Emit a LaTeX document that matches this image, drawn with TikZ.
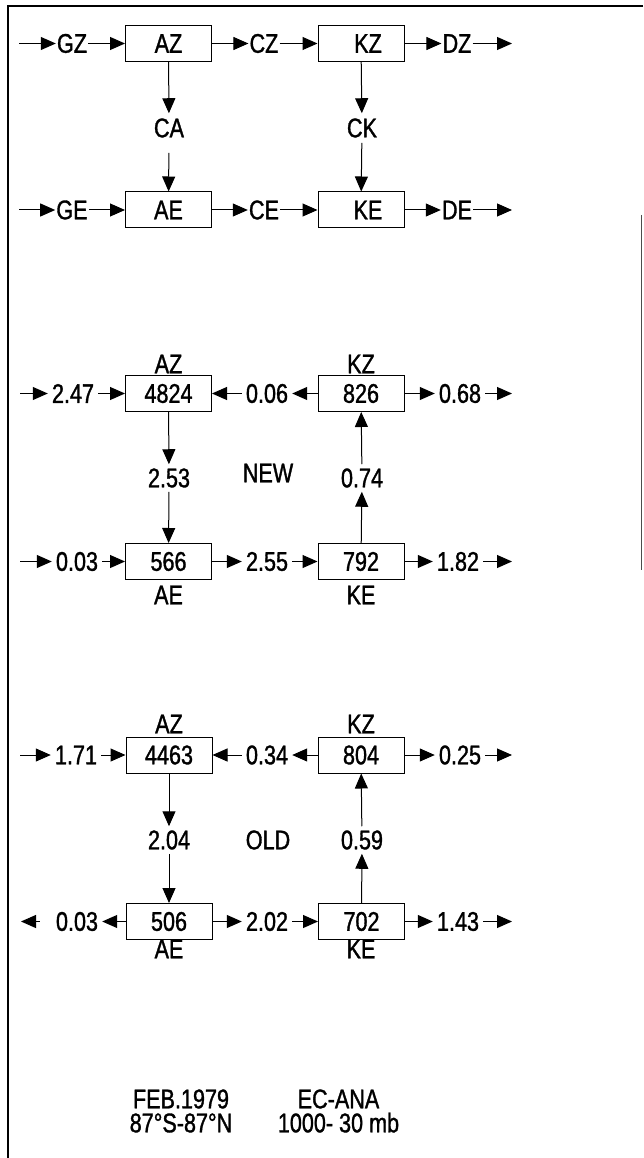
\documentclass[tikz,border=0pt]{standalone}
\usepackage{fontspec}
\setmainfont[FakeStretch=0.8,FakeBold=1.2]{Liberation Sans}
\usetikzlibrary{arrows.meta}
\begin{document}
\begin{tikzpicture}[x=1pt,y=-1pt,
  font=\fontsize{27}{30}\selectfont,
  box/.style={draw,line width=1pt,minimum width=86pt,minimum height=36pt,inner sep=0pt},
  lbl/.style={inner sep=1pt},
  num/.style={inner sep=4pt},
  captext/.style={inner sep=0.5pt,align=center,font=\fontsize{27}{24}\selectfont},
  arr/.style={line width=1pt,-{Triangle[length=15pt,width=13pt]}},
  frame/.style={line width=1.3pt}]
\useasboundingbox (0,0) rectangle (643,1158);
\draw[frame] (643,6) -- (8,6) -- (8,1158);
\draw[line width=0.8pt,black!70] (641,215) -- (641,570);

% ---------- schematic ----------
\node[box] (AZ) at (168.5,43.5) {AZ};
\node[box] (KZ) at (361,43.5) {\hspace*{14pt}KZ};
\node[box] (AE) at (168.5,210) {AE};
\node[box] (KE) at (361,210) {\hspace*{14pt}KE};
\node[lbl] (GZ) at (72,43.5) {GZ};
\node[lbl] (CZ) at (264,43.5) {CZ};
\node[lbl] (DZ) at (457,43.5) {DZ};
\node[lbl] (GE) at (72,210) {GE};
\node[lbl] (CE) at (264,210) {CE};
\node[lbl] (DE) at (457,210) {DE};
\node[inner sep=5pt] (CA) at (169,128) {CA};
\node[inner sep=5pt] (CK) at (362,128) {CK};
\coordinate (s1) at (19,43.5);
\coordinate (e1) at (512,43.5);
\coordinate (s2) at (19,210);
\coordinate (e2) at (512,210);
\draw[arr] (s1) -- (GZ);
\draw[arr] (GZ) -- (AZ);
\draw[arr] (AZ) -- (CZ);
\draw[arr] (CZ) -- (KZ);
\draw[arr] (KZ) -- (DZ);
\draw[arr] (DZ) -- (e1);
\draw[arr] (s2) -- (GE);
\draw[arr] (GE) -- (AE);
\draw[arr] (AE) -- (CE);
\draw[arr] (CE) -- (KE);
\draw[arr] (KE) -- (DE);
\draw[arr] (DE) -- (e2);
\draw[arr] (AZ) -- (CA);
\draw[arr,shorten <=10pt] (CA) -- (AE);
\draw[arr] (KZ) -- (CK);
\draw[arr] (CK) -- (KE);

% ---------- NEW ----------
\node[lbl] (nAZ) at (168.5,364) {AZ};
\node[lbl] (nKZ) at (361,364) {KZ};
\node[box] (A1) at (168.5,393.5) {4824};
\node[box] (K1) at (361,393.5) {826};
\node[box] (A2) at (168.5,561.5) {566};
\node[box] (K2) at (361,561.5) {792};
\node[lbl] (nAE) at (168.5,595) {AE};
\node[lbl] (nKE) at (361,595) {KE};
\node[num] (n247) at (73,393.5) {2.47};
\node[num] (n006) at (267,393.5) {0.06};
\node[num] (n068) at (460,393.5) {0.68};
\node[num] (n003) at (77,561.5) {0.03};
\node[num] (n255) at (267,561.5) {2.55};
\node[num] (n182) at (458,561.5) {1.82};
\node[num] (n253) at (169,478) {2.53};
\node[num] (n074) at (362,478) {0.74};
\node[lbl] (NEW) at (268,473) {NEW};
\coordinate (s3) at (20,393.5);
\coordinate (e3) at (512,393.5);
\coordinate (s4) at (20,561.5);
\coordinate (e4) at (512,561.5);
\draw[arr] (s3) -- (n247);
\draw[arr] (n247) -- (A1);
\draw[arr] (n006) -- (A1);
\draw[arr] (K1) -- (n006);
\draw[arr] (K1) -- (n068);
\draw[arr] (n068) -- (e3);
\draw[arr] (A1) -- (n253);
\draw[arr] (n253) -- (A2);
\draw[arr] (K2) -- (n074);
\draw[arr] (n074) -- (K1);
\draw[arr] (s4) -- (n003);
\draw[arr] (n003) -- (A2);
\draw[arr] (A2) -- (n255);
\draw[arr] (n255) -- (K2);
\draw[arr] (K2) -- (n182);
\draw[arr] (n182) -- (e4);

% ---------- OLD ----------
\node[lbl] (oAZ) at (169,724) {AZ};
\node[lbl] (oKZ) at (361,724) {KZ};
\node[box] (A3) at (169,755) {4463};
\node[box] (K3) at (361,755) {804};
\node[box] (A4) at (169,921.5) {506};
\node[box] (K4) at (361.5,921.5) {702};
\node[lbl] (oAE) at (169,949) {AE};
\node[lbl] (oKE) at (361,949) {KE};
\node[num] (o171) at (76,755) {1.71};
\node[num] (o034) at (267,755) {0.34};
\node[num] (o025) at (460,755) {0.25};
\node[num] (o003) at (77,921.5) {0.03};
\node[num] (o202) at (267,921.5) {2.02};
\node[num] (o143) at (458,921.5) {1.43};
\node[num] (o204) at (169,840) {2.04};
\node[num] (o059) at (362,840) {0.59};
\node[lbl] (OLD) at (268,840) {OLD};
\coordinate (s5) at (20,755);
\coordinate (e5) at (512,755);
\coordinate (s6) at (21,921.5);
\coordinate (e6) at (512,921.5);
\draw[arr] (s5) -- (o171);
\draw[arr] (o171) -- (A3);
\draw[arr] (o034) -- (A3);
\draw[arr] (K3) -- (o034);
\draw[arr] (K3) -- (o025);
\draw[arr] (o025) -- (e5);
\draw[arr] (A3) -- (o204);
\draw[arr] (o204) -- (A4);
\draw[arr] (K4) -- (o059);
\draw[arr] (o059) -- (K3);
\draw[arr,shorten <=12pt] (o003) -- (s6);
\draw[arr] (A4) -- (o003);
\draw[arr] (A4) -- (o202);
\draw[arr] (o202) -- (K4);
\draw[arr] (K4) -- (o143);
\draw[arr] (o143) -- (e6);

% ---------- caption ----------
\node[captext] (capl) at (181,1111) {FEB.1979\\87°S-87°N};
\node[captext] (capr) at (338.5,1111) {EC-ANA\\1000- 30 mb};
\end{tikzpicture}
\end{document}
